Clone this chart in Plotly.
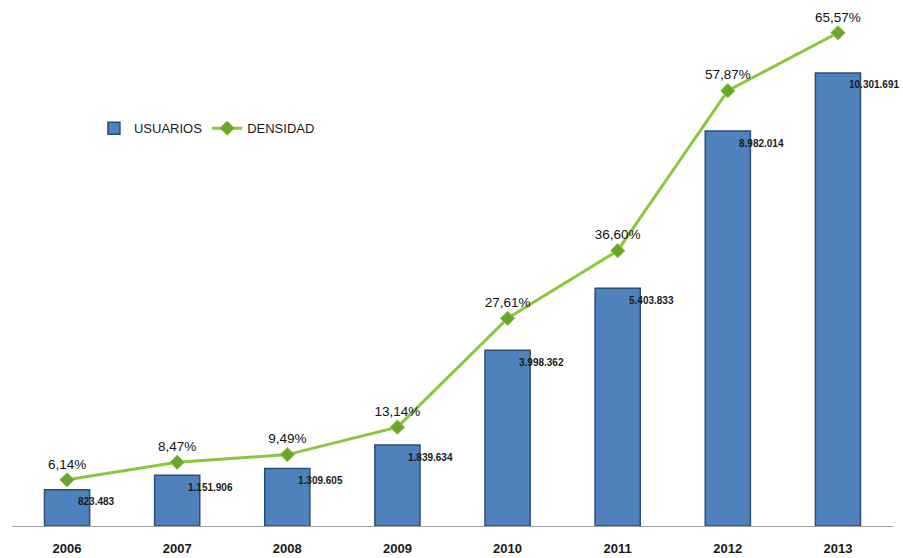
import plotly.graph_objects as go

years = ["2006", "2007", "2008", "2009", "2010", "2011", "2012", "2013"]
usuarios = [823483, 1151906, 1309605, 1839634, 3998362, 5403833, 8982014, 10301691]
usuarios_labels = ["823.483", "1.151.906", "1.309.605", "1.839.634", "3.998.362",
                   "5.403.833", "8.982.014", "10.301.691"]
densidad = [6.14, 8.47, 9.49, 13.14, 27.61, 36.60, 57.87, 65.57]
densidad_labels = ["6,14%", "8,47%", "9,49%", "13,14%", "27,61%", "36,60%", "57,87%", "65,57%"]

fig = go.Figure()
fig.add_trace(go.Bar(
    x=years, y=usuarios, name="USUARIOS",
    marker=dict(color="#4f81bd", line=dict(color="#2c4d75", width=1.5)),
    yaxis="y",
))
fig.add_trace(go.Scatter(
    x=years, y=densidad, name="DENSIDAD", yaxis="y2",
    mode="lines+markers+text",
    line=dict(color="#8cc63f", width=3),
    marker=dict(symbol="diamond", size=11, color="#6aa52e", line=dict(color="#8cc63f", width=1)),
    text=densidad_labels, textposition="top center",
    textfont=dict(family="Liberation Sans", size=13.5, color="#111111"),
    cliponaxis=False,
))

for i, (v, lab) in enumerate(zip(usuarios, usuarios_labels)):
    fig.add_annotation(
        x=i, y=v, xref="x", yref="y", text="<b>" + lab + "</b>",
        showarrow=False, xanchor="left", yanchor="middle",
        xshift=9, yshift=-12,
        font=dict(family="Liberation Sans", size=10, color="#1a1a1a"),
    )

fig.update_layout(
    width=903, height=558,
    margin=dict(l=12, r=10, t=10, b=32),
    paper_bgcolor="white", plot_bgcolor="white",
    bargap=0.59,
    showlegend=True,
    legend=dict(orientation="h", x=0.093, y=0.8, xanchor="left", yanchor="top",
                font=dict(family="Liberation Sans", size=13, color="#1a1a1a"),
                bgcolor="rgba(0,0,0,0)"),
    xaxis=dict(type="category", range=[-0.5, len(years) - 0.5],
               showline=True, linecolor="#a0a0a0", linewidth=1, ticks="",
               showgrid=False, ticklabelstandoff=10, automargin=False,
               tickfont=dict(family="Liberation Sans", size=13, color="#1a1a1a", weight="bold")),
    yaxis=dict(range=[0, 11734000], visible=False, showgrid=False),
    yaxis2=dict(range=[0, 68.6], overlaying="y", side="right", visible=False, showgrid=False),
)

fig.write_html("out.html", config={"displayModeBar": False},
               post_script="document.body.style.margin='0';document.body.style.overflow='hidden';")
